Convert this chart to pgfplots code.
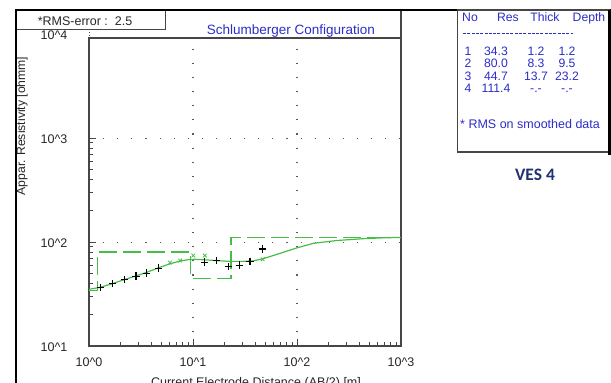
\documentclass[border=0pt]{standalone}
\usepackage{pgfplots}
\pgfplotsset{compat=1.18}
\usepackage{fontspec}
\setmainfont{Liberation Sans}
\newfontfamily\calibri{Carlito}
\definecolor{mgreen}{RGB}{70,190,70}
\definecolor{tblue}{RGB}{45,45,200}
\definecolor{navy}{RGB}{32,50,110}
\definecolor{axgray}{RGB}{70,70,70}
\newcommand{\fs}{\fontsize{12.5}{14}\selectfont}
\begin{document}
\begin{tikzpicture}
\useasboundingbox (0pt,0pt) rectangle (611pt,-383pt);
\begin{axis}[
  at={(89pt,-346pt)}, anchor=south west,
  scale only axis, width=312pt, height=308pt,
  xmode=log, ymode=log,
  xmin=1, xmax=1000, ymin=10, ymax=9200,
  xtick={1,10,100,1000},
  xticklabels={10\textasciicircum 0,10\textasciicircum 1,10\textasciicircum 2,10\textasciicircum 3},
  ytick={10,100,1000},
  yticklabels={10\textasciicircum 1,10\textasciicircum 2,10\textasciicircum 3},
  tick label style={font=\fs, text=black!85},
  yticklabel style={anchor=center, xshift=-35pt, yshift=-1pt},
  xticklabel style={anchor=center, yshift=-16pt},
  axis line style={axgray, line width=1.2pt},
  tick style={axgray, line width=0.9pt},
  major tick length=7pt, minor tick length=4pt,
  tick align=inside, tick pos=left,
  grid=major,
  major grid style={color=gray!70!black, line width=1.1pt, dash pattern=on 1.1pt off 13pt},
  clip=true,
]
% layer model (dashed step)
\addplot[mgreen, line width=1.4pt, dash pattern=on 18pt off 6pt] coordinates {
(1,34.3)(1.2,34.3)(1.2,80)(9.5,80)(9.5,44.7)(23.2,44.7)(23.2,111.4)(1000,111.4)};
% model curve
\addplot[mgreen, line width=1.2pt] coordinates {
(1,35.1)(1.28,36.7)(1.68,39.8)(2.18,43.5)(2.83,47.3)(3.56,51)(4.67,56.6)(6.0,61.8)(7.5,65.6)(9.0,67.8)(10.5,68.3)(13.5,67.3)(17,66.3)(22.7,65.2)(30,65.2)(38,66.0)(47.3,69.2)(68.5,77.8)(100,88)(143,97.2)(240,103.5)(432,107.8)(626,109.6)(1000,111)};
% calculated points (x)
\addplot[only marks, mark=x, mark size=2.6pt, mgreen, line width=0.8pt] coordinates {
(6.01,63.5)(7.53,66.4)(10.07,74.2)(13.0,74.2)(46.8,68.2)};
% field data (+)
\addplot[only marks, mark=+, mark size=3.6pt, black, line width=1.1pt] coordinates {
(1.29,36.7)(1.68,40.1)(2.18,43.9)(2.83,47.1)(3.56,50.3)(4.68,56.2)(13.0,64.2)(16.9,66.1)(22.0,57.9)(27.9,60.1)(35.3,65.6)(46.8,85.7)};
\end{axis}
% extra axis line pieces
\draw[axgray, line width=1.2pt] (401pt,-10pt)--(401pt,-38pt);
\draw[axgray, line width=1pt, dotted] (89pt,-29pt)--(89pt,-38pt);
% labels
\node[font=\fs, text=black!85] at (54pt,-35pt) {10\textasciicircum 4};
\node[font=\fontsize{12.2}{14}\selectfont, text=black!85, rotate=90] at (22pt,-126pt) {Appar. Resistivity [ohmm]};
\node[font=\fs, text=black!85, anchor=north, inner sep=0pt] at (256pt,-377pt) {Current Electrode Distance (AB/2) [m]};
\node[font=\fontsize{13.5}{15}\selectfont, text=tblue] at (291pt,-31pt) {Schlumberger Configuration};
% RMS box
\draw[axgray, line width=1pt, fill=white] (16pt,-10pt) rectangle (165pt,-29pt);
\node[font=\fs, text=black!85] at (85pt,-21pt) {*RMS-error :\ \ 2.5};
% outer frame
\draw[black, line width=2pt] (16pt,-383pt)--(16pt,-10pt)--(611pt,-10pt);
% table box
\draw[axgray, line width=1.2pt, fill=white] (457.5pt,-10pt) rectangle (609pt,-152pt);
\draw[black, line width=2.5pt] (609.5pt,-10pt)--(609.5pt,-155pt);
\begin{scope}[every node/.style={font=\fontsize{12.2}{13}\selectfont, text=tblue, inner sep=0pt, anchor=base}]
\node at (470pt,-21.5pt) {No};
\node at (508pt,-21.5pt) {Res};
\node at (545pt,-21.5pt) {Thick};
\node at (589pt,-21.5pt) {Depth};
\node at (468pt,-55pt) {1}; \node at (496pt,-55pt) {34.3}; \node at (536pt,-55pt) {1.2}; \node at (567pt,-55pt) {1.2};
\node at (468pt,-67.5pt) {2}; \node at (496pt,-67.5pt) {80.0}; \node at (536pt,-67.5pt) {8.3}; \node at (567pt,-67.5pt) {9.5};
\node at (468pt,-80pt) {3}; \node at (496pt,-80pt) {44.7}; \node at (536pt,-80pt) {13.7}; \node at (567pt,-80pt) {23.2};
\node at (468pt,-92.5pt) {4}; \node at (496pt,-92.5pt) {111.4}; \node at (536pt,-92.5pt) {-.-}; \node at (567pt,-92.5pt) {-.-};
\node[anchor=base west, font=\fs] at (460pt,-128.5pt) {* RMS on smoothed data};
\end{scope}
\draw[tblue, line width=0.8pt, dash pattern=on 3pt off 1.3pt] (463pt,-33pt)--(573pt,-33pt);
% VES label
\node[font=\calibri\bfseries\fontsize{17.5}{20}\selectfont, text=navy] at (535pt,-175pt) {VES 4};
\end{tikzpicture}
\end{document}
